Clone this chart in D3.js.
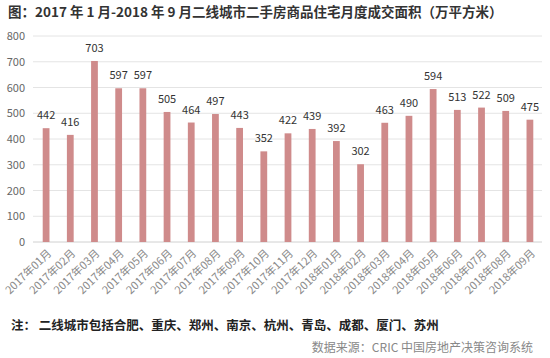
<!DOCTYPE html>
<html><head><meta charset="utf-8">
<script src="https://cdn.jsdelivr.net/npm/d3@7"></script>
<style>
body{margin:0;background:#fff;}
svg{display:block;}
text{font-family:"Noto Sans CJK SC","Noto Sans",sans-serif;}
</style></head>
<body><svg id="c" width="550" height="358"></svg>
<script>
const categories = ["2017年01月","2017年02月","2017年03月","2017年04月","2017年05月","2017年06月","2017年07月","2017年08月","2017年09月","2017年10月","2017年11月","2017年12月","2018年01月","2018年02月","2018年03月","2018年04月","2018年05月","2018年06月","2018年07月","2018年08月","2018年09月"];
const values = [442,416,703,597,597,505,464,497,443,352,422,439,392,302,463,490,594,513,522,509,475];
const yTicks = [0,100,200,300,400,500,600,700,800];
const titleText = "图：2017 年 1 月-2018 年 9 月二线城市二手房商品住宅月度成交面积（万平方米）";
const noteText = "注： 二线城市包括合肥、重庆、郑州、南京、杭州、青岛、成都、厦门、苏州";
const sourceText = "数据来源：CRIC 中国房地产决策咨询系统";

const svg = d3.select("#c");
const x = d3.scaleBand().domain(categories).range([34, 542]).paddingInner(0.72).paddingOuter(0.36);
const y = d3.scaleLinear().domain([0, 800]).range([242, 36]);

svg.append("text").attr("x", 8).attr("y", 17).attr("font-size", 13.5).attr("font-weight", "bold").attr("fill", "#333").text(titleText);

// grid
svg.append("g").selectAll("line").data(yTicks).join("line")
  .attr("x1", 33).attr("x2", 542).attr("y1", d => y(d)).attr("y2", d => y(d))
  .attr("stroke", d => d === 0 ? "#d0d0d0" : "#e4e4e4").attr("stroke-width", 1);

svg.append("g").selectAll("text").data(yTicks).join("text")
  .attr("x", 25).attr("y", d => y(d) + 4).attr("text-anchor", "end")
  .attr("font-size", 11).attr("fill", "#666").text(d => d);

svg.append("g").selectAll("rect").data(values).join("rect")
  .attr("x", (d, i) => x(categories[i])).attr("width", x.bandwidth())
  .attr("y", d => y(d)).attr("height", d => y(0) - y(d)).attr("fill", "#cf8b8b");

svg.append("g").selectAll("text").data(values).join("text")
  .attr("x", (d, i) => x(categories[i]) + x.bandwidth() / 2).attr("y", d => y(d) - 9)
  .attr("text-anchor", "middle").attr("font-size", 11).attr("fill", "#333").text(d => d);

svg.append("g").selectAll("text").data(categories).join("text")
  .attr("transform", d => `translate(${x(d) + x.bandwidth() / 2 + 6},${254}) rotate(-44)`)
  .attr("text-anchor", "end").attr("font-size", 11).attr("fill", "#8a8a8a").text(d => d);

svg.append("text").attr("x", 11).attr("y", 330).attr("font-size", 12.5).attr("font-weight", "bold").attr("fill", "#222").text(noteText);
svg.append("text").attr("x", 533).attr("y", 352).attr("text-anchor", "end").attr("font-size", 12).attr("fill", "#888").text(sourceText);
</script></body></html>
